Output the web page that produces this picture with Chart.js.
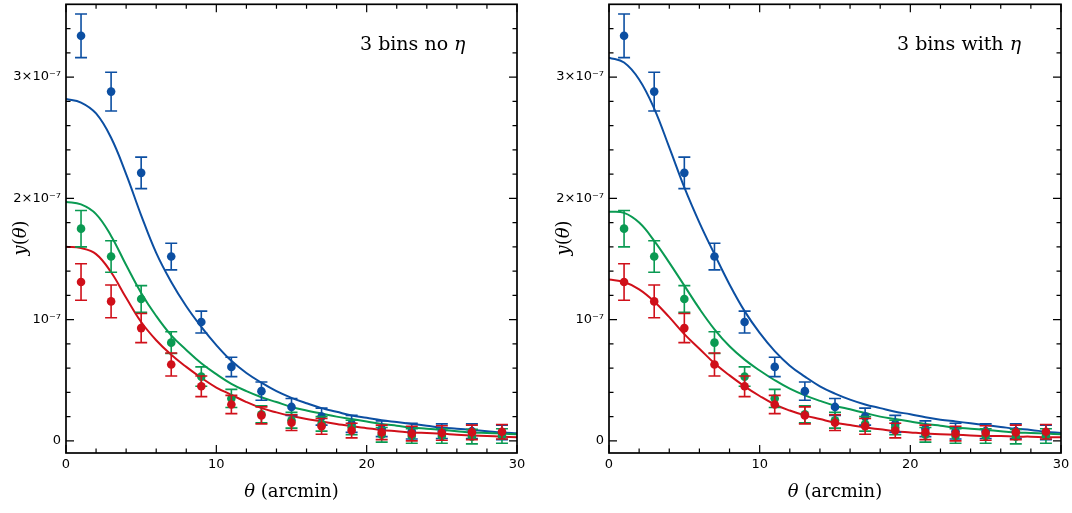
<!DOCTYPE html>
<html>
<head>
<meta charset="utf-8">
<script src="https://cdn.jsdelivr.net/npm/chart.js@4"></script>
<style>
body { margin: 0; background: #fff; }
#wrap { position: relative; width: 1072px; height: 513px; }
canvas { position: absolute; top: 0; }
</style>
</head>
<body>
<div id="wrap">
<canvas id="left" width="536" height="513" style="left:0"></canvas>
<canvas id="right" width="536" height="513" style="left:536px"></canvas>
</div>
<script>
// all y values in units of 1e-7
var thetaPts = [1, 3, 5, 7, 9, 11, 13, 15, 17, 19, 21, 23, 25, 27, 29];
var bin1 = [3.34, 2.88, 2.21, 1.52, 0.98, 0.61, 0.41, 0.28, 0.20, 0.14, 0.10, 0.08, 0.08, 0.08, 0.07];
var bin1Err = [0.18, 0.16, 0.13, 0.11, 0.09, 0.08, 0.075, 0.07, 0.07, 0.07, 0.065, 0.065, 0.06, 0.06, 0.06];
var bin2 = [1.75, 1.52, 1.17, 0.81, 0.53, 0.35, 0.22, 0.17, 0.14, 0.11, 0.05, 0.04, 0.04, 0.035, 0.04];
var bin2Err = [0.15, 0.13, 0.11, 0.09, 0.08, 0.075, 0.07, 0.065, 0.06, 0.06, 0.06, 0.06, 0.06, 0.06, 0.06];
var bin3 = [1.31, 1.15, 0.93, 0.63, 0.45, 0.30, 0.21, 0.15, 0.12, 0.085, 0.07, 0.06, 0.065, 0.07, 0.075];
var bin3Err = [0.15, 0.135, 0.12, 0.095, 0.085, 0.075, 0.07, 0.065, 0.065, 0.06, 0.06, 0.06, 0.06, 0.06, 0.06];

// model curves sampled at theta = 0..30
var thetaGrid = [0,1,2,3,4,5,6,7,8,9,10,11,12,13,14,15,16,17,18,19,20,21,22,23,24,25,26,27,28,29,30];
var blueNoEta = [2.82,2.79,2.70,2.50,2.20,1.86,1.55,1.31,1.11,0.94,0.79,0.66,0.56,0.48,0.41,0.355,0.31,0.27,0.24,0.21,0.19,0.17,0.155,0.14,0.125,0.11,0.10,0.09,0.08,0.07,0.063];
var greenNoEta = [1.97,1.95,1.87,1.69,1.45,1.22,1.03,0.87,0.75,0.64,0.55,0.47,0.41,0.36,0.32,0.28,0.25,0.225,0.20,0.18,0.16,0.14,0.125,0.11,0.10,0.09,0.08,0.07,0.065,0.06,0.055];
var redNoEta = [1.60,1.59,1.54,1.39,1.18,0.98,0.83,0.71,0.61,0.52,0.44,0.38,0.32,0.27,0.235,0.205,0.18,0.16,0.14,0.12,0.105,0.09,0.08,0.07,0.065,0.06,0.05,0.045,0.04,0.035,0.03];
var blueEta = [3.16,3.12,2.98,2.74,2.42,2.09,1.80,1.54,1.29,1.07,0.89,0.74,0.62,0.53,0.45,0.39,0.34,0.30,0.27,0.24,0.22,0.195,0.175,0.16,0.145,0.13,0.115,0.10,0.09,0.075,0.065];
var greenEta = [1.89,1.88,1.80,1.65,1.47,1.28,1.09,0.92,0.78,0.67,0.58,0.50,0.43,0.375,0.33,0.29,0.26,0.23,0.20,0.18,0.16,0.14,0.125,0.11,0.10,0.09,0.08,0.07,0.065,0.06,0.055];
var redEta = [1.33,1.31,1.25,1.15,1.02,0.88,0.76,0.64,0.54,0.45,0.37,0.30,0.25,0.21,0.18,0.15,0.13,0.11,0.095,0.08,0.07,0.06,0.055,0.05,0.045,0.04,0.04,0.035,0.035,0.03,0.03];

var xMajor = [0, 10, 20, 30];
var yMajor = [0, 1, 2, 3];
var yLabels = ['0', '10\u207B\u2077', '2\u00D710\u207B\u2077', '3\u00D710\u207B\u2077'];

var BLUE = '#0c4fa2';
var GREEN = '#0a9a52';
var RED = '#d0101a';

function pairs(xs, ys) {
    return xs.map(function(x, i) { return {x: x, y: ys[i]}; });
}

var framePlugin = {
    id: 'frame',
    afterDatasetDraw: function(chart, args) {
        var ds = chart.data.datasets[args.index];
        if (!ds.errors) return;
        var ctx = chart.ctx;
        var xs = chart.scales.x, ys = chart.scales.y;
        ctx.save();
        ctx.strokeStyle = ds.backgroundColor;
        ctx.lineWidth = 1.6;
        ds.data.forEach(function(p, i) {
            var px = xs.getPixelForValue(p.x);
            var top = ys.getPixelForValue(p.y + ds.errors[i]);
            var bot = ys.getPixelForValue(p.y - ds.errors[i]);
            ctx.beginPath();
            ctx.moveTo(px, top); ctx.lineTo(px, bot);
            ctx.moveTo(px - 6, top); ctx.lineTo(px + 6, top);
            ctx.moveTo(px - 6, bot); ctx.lineTo(px + 6, bot);
            ctx.stroke();
        });
        ctx.restore();
    },
    afterDraw: function(chart) {
        var ctx = chart.ctx;
        var a = chart.chartArea;
        var xs = chart.scales.x, ys = chart.scales.y;
        var opts = chart.options.plugins.frame;
        ctx.save();
        ctx.strokeStyle = '#000';
        ctx.lineWidth = 1.7;
        ctx.strokeRect(a.left, a.top, a.right - a.left, a.bottom - a.top);

        // ticks pointing inward on all sides
        ctx.lineWidth = 1.2;
        ctx.beginPath();
        for (var v = 0; v <= 30; v += 2) {
            var len = (v % 10 === 0) ? 8 : 4.5;
            var px = xs.getPixelForValue(v);
            ctx.moveTo(px, a.bottom); ctx.lineTo(px, a.bottom - len);
            ctx.moveTo(px, a.top); ctx.lineTo(px, a.top + len);
        }
        for (var k = 0; k <= 17; k++) {
            var len2 = (k % 5 === 0) ? 8 : 4.5;
            var py = ys.getPixelForValue(k * 0.2);
            ctx.moveTo(a.left, py); ctx.lineTo(a.left + len2, py);
            ctx.moveTo(a.right, py); ctx.lineTo(a.right - len2, py);
        }
        ctx.stroke();

        ctx.fillStyle = '#000';
        ctx.textBaseline = 'middle';

        // panel label
        ctx.font = '19px "DejaVu Serif"';
        ctx.textAlign = 'left';
        var lx = a.left + opts.labelOffset;
        ctx.fillText(opts.label, lx, 45);
        var w = ctx.measureText(opts.label).width;
        ctx.font = 'italic 19px "DejaVu Serif"';
        ctx.fillText('\u03B7', lx + w, 45);

        // x title
        ctx.font = 'italic 18px "DejaVu Serif"';
        var t1 = '\u03B8';
        var w1 = ctx.measureText(t1).width;
        ctx.font = '18px "DejaVu Serif"';
        var t2 = ' (arcmin)';
        var w2 = ctx.measureText(t2).width;
        var cx = (a.left + a.right) / 2 - (w1 + w2) / 2;
        ctx.font = 'italic 18px "DejaVu Serif"';
        ctx.fillText(t1, cx, 492);
        ctx.font = '18px "DejaVu Serif"';
        ctx.fillText(t2, cx + w1, 492);

        // y title, rotated
        ctx.translate(a.left - 45, 238);
        ctx.rotate(-Math.PI / 2);
        var parts = [['italic ', 'y'], ['', '('], ['italic ', '\u03B8'], ['', ')']];
        var total = 0;
        parts.forEach(function(p) {
            ctx.font = p[0] + '18px "DejaVu Serif"';
            total += ctx.measureText(p[1]).width;
        });
        var pos = -total / 2;
        parts.forEach(function(p) {
            ctx.font = p[0] + '18px "DejaVu Serif"';
            ctx.fillText(p[1], pos, 0);
            pos += ctx.measureText(p[1]).width;
        });
        ctx.restore();
    }
};

function makePanel(id, curves, label, yWidth, padRight, labelOffset) {
    var ctx = document.getElementById(id).getContext('2d');
    var colors = [BLUE, GREEN, RED];
    var bins = [bin1, bin2, bin3];
    var errs = [bin1Err, bin2Err, bin3Err];
    var datasets = [];

    curves.forEach(function(c, i) {
        datasets.push({
            type: 'line',
            data: pairs(thetaGrid, c),
            borderColor: colors[i],
            borderWidth: 2,
            pointRadius: 0,
            fill: false,
            tension: 0.4,
            order: 6 - i
        });
    });
    bins.forEach(function(b, i) {
        datasets.push({
            type: 'scatter',
            data: pairs(thetaPts, b),
            errors: errs[i],
            backgroundColor: colors[i],
            borderWidth: 0,
            pointRadius: 4.3,
            order: 3 - i
        });
    });

    return new Chart(ctx, {
        data: { datasets: datasets },
        options: {
            responsive: false,
            animation: false,
            layout: { padding: { top: 2, right: padRight, left: 0, bottom: 0 } },
            plugins: {
                legend: { display: false },
                tooltip: { enabled: false },
                frame: { label: label, labelOffset: labelOffset }
            },
            scales: {
                x: {
                    type: 'linear',
                    min: 0,
                    max: 30,
                    grid: { display: false, drawTicks: false },
                    border: { display: false },
                    afterBuildTicks: function(s) { s.ticks = xMajor.map(function(v) { return {value: v}; }); },
                    afterFit: function(s) { s.height = 60; s.paddingLeft = 0; s.paddingRight = 0; },
                    ticks: {
                        padding: 4,
                        color: '#000',
                        maxRotation: 0,
                        font: { family: 'DejaVu Sans', size: 13 }
                    }
                },
                y: {
                    type: 'linear',
                    min: -0.1,
                    max: 3.6,
                    grid: { display: false, drawTicks: false },
                    border: { display: false },
                    afterBuildTicks: function(s) { s.ticks = yMajor.map(function(v) { return {value: v}; }); },
                    afterFit: function(s) { s.width = yWidth; s.paddingTop = 0; s.paddingBottom = 0; },
                    ticks: {
                        padding: 5,
                        color: '#000',
                        font: { family: 'DejaVu Sans', size: 13 },
                        callback: function(value) {
                            var i = yMajor.indexOf(value);
                            return i >= 0 ? yLabels[i] : '';
                        }
                    }
                }
            }
        },
        plugins: [framePlugin]
    });
}

makePanel('left', [blueNoEta, greenNoEta, redNoEta], '3 bins no ', 66, 19, 294);
makePanel('right', [blueEta, greenEta, redEta], '3 bins with ', 73, 11, 288);
</script>
</body>
</html>
